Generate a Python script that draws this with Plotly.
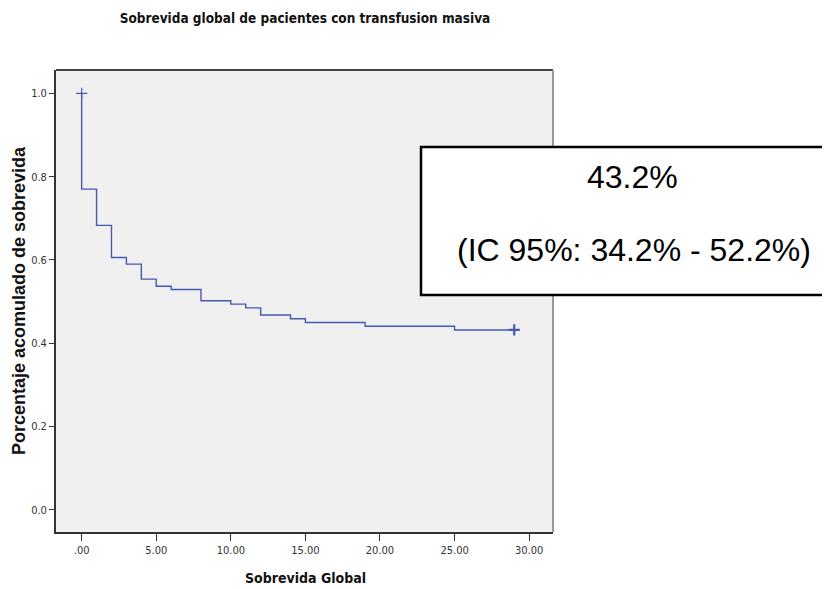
import plotly.graph_objects as go

# Kaplan-Meier step data
times = [0, 0, 1, 2, 3, 4, 5, 6, 8, 10, 11, 12, 14, 15, 19, 25, 29]
survival = [1.0, 0.770, 0.683, 0.606, 0.590, 0.554, 0.537, 0.529, 0.502,
            0.494, 0.485, 0.468, 0.459, 0.450, 0.441, 0.432, 0.432]
censor_times = [0, 29]
censor_surv = [1.0, 0.432]

x_tickvals = [0, 5, 10, 15, 20, 25, 30]
x_ticktext = [".00", "5.00", "10.00", "15.00", "20.00", "25.00", "30.00"]
y_tickvals = [0.0, 0.2, 0.4, 0.6, 0.8, 1.0]
y_ticktext = ["0.0", "0.2", "0.4", "0.6", "0.8", "1.0"]

title_text = "Sobrevida global de pacientes con transfusion masiva"
x_title = "Sobrevida Global"
y_title = "Porcentaje acomulado de sobrevida"
box_line1 = "43.2%"
box_line2 = "(IC 95%: 34.2% - 52.2%)"

LINE = "#4459b0"
NARROW = "DejaVu Sans Condensed, Liberation Sans Narrow, Liberation Sans, Arial"
SANS = "Liberation Sans, Arial"

OFF = 8  # page body margin
W, H = 830 - OFF, 589 - OFF
L, R, T, B = 56 - OFF, 553 - OFF, 70 - OFF, 532 - OFF

def px(x):
    return (x - OFF - L) / (R - L)

def py(y):
    return (B - (y - OFF)) / (B - T)

fig = go.Figure()
fig.add_trace(go.Scatter(x=times, y=survival, mode="lines",
                         line=dict(color=LINE, width=1.4, shape="hv"),
                         showlegend=False, hoverinfo="skip"))
fig.add_trace(go.Scatter(x=censor_times, y=censor_surv, mode="markers",
                         marker=dict(symbol="cross-thin", size=8,
                                     line=dict(color=LINE, width=[1.2, 2.2])),
                         showlegend=False, hoverinfo="skip"))

fig.update_layout(
    template="none",
    width=W, height=H,
    margin=dict(l=L, r=W - R, t=T, b=H - B, pad=0),
    paper_bgcolor="white",
    plot_bgcolor="#f0f0f0",
    title=dict(text=title_text, x=px(305), xref="paper", xanchor="center",
               y=1 - (18 - OFF) / H, yref="container", yanchor="middle",
               font=dict(family=NARROW, size=13.5, color="#111", weight="bold")),
    xaxis=dict(range=[-1.72, 31.6], tickvals=x_tickvals, ticktext=x_ticktext,
               automargin=False,
               showgrid=False, zeroline=False, showline=True, mirror=False,
               linecolor="#333", linewidth=1.8, ticks="outside", ticklen=7,
               tickcolor="#333", tickwidth=1.2,
               tickfont=dict(family=NARROW, size=11, color="#333")),
    yaxis=dict(range=[-0.053, 1.056], tickvals=y_tickvals, ticktext=y_ticktext,
               automargin=False,
               showgrid=False, zeroline=False, showline=True, mirror=False,
               linecolor="#333", linewidth=1.8, ticks="outside", ticklen=5,
               tickcolor="#333", tickwidth=1.2,
               tickfont=dict(family=NARROW, size=11, color="#333")),
    shapes=[
        dict(type="line", xref="paper", yref="paper", x0=0, x1=1, y0=1, y1=1,
             line=dict(color="#444", width=1.8)),
        dict(type="line", xref="paper", yref="paper", x0=1, x1=1, y0=0, y1=1,
             line=dict(color="#999", width=2)),
        dict(type="rect", xref="paper", yref="paper",
             x0=px(421), x1=px(834), y0=py(295), y1=py(147),
             line=dict(color="black", width=2.5), fillcolor="white", layer="above"),
    ],
    annotations=[
        dict(text=x_title, xref="paper", yref="paper", x=px(305), y=py(578),
             showarrow=False, xanchor="center", yanchor="middle",
             font=dict(family=NARROW, size=14, color="#111", weight="bold")),
        dict(text=y_title, xref="paper", yref="paper", x=px(19), y=py(301),
             showarrow=False, xanchor="center", yanchor="middle", textangle=-90,
             font=dict(family=SANS, size=18, color="#111", weight="bold")),
        dict(text=box_line1, xref="paper", yref="paper", x=px(632), y=py(177),
             showarrow=False, xanchor="center", yanchor="middle",
             font=dict(family=SANS, size=32, color="black")),
        dict(text=box_line2, xref="paper", yref="paper", x=px(634), y=py(250),
             showarrow=False, xanchor="center", yanchor="middle",
             font=dict(family=SANS, size=32, color="black")),
    ],
)

fig.write_html("out.html")
